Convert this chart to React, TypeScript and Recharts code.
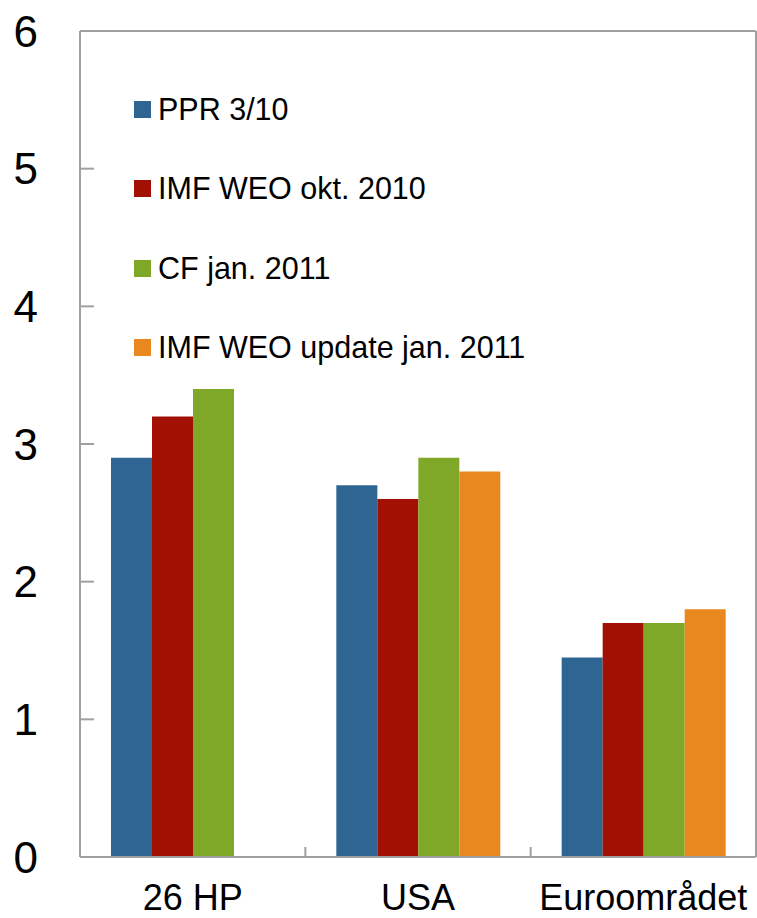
import React from 'react'
import {
  BarChart,
  Bar,
  XAxis,
  YAxis,
  ReferenceLine,
} from 'recharts'

const categories = ['26 HP', 'USA', 'Euroområdet']
const ppr = [2.9, 2.7, 1.45]
const imfOkt = [3.2, 2.6, 1.7]
const cfJan = [3.4, 2.9, 1.7]
const imfUpdate = [null, 2.8, 1.8]
const yTicks = [0, 1, 2, 3, 4, 5, 6]

const series = [
  { key: 'ppr', name: 'PPR 3/10', color: '#2E6592' },
  { key: 'imfOkt', name: 'IMF WEO okt. 2010', color: '#A21004' },
  { key: 'cfJan', name: 'CF jan. 2011', color: '#80A828' },
  { key: 'imfUpdate', name: 'IMF WEO update jan. 2011', color: '#E9881E' },
]

const data = categories.map((name, i) => ({
  name,
  ppr: ppr[i],
  imfOkt: imfOkt[i],
  cfJan: cfJan[i],
  imfUpdate: imfUpdate[i],
}))

const FONT = '"Liberation Sans", Arial, sans-serif'
const AXIS = '#A0A0A0'
const X_MARGIN = 27

const noLabel = () => <g />

// category label plus a short inward tick at the right edge of each band
function CategoryTick(props: any) {
  const { x, y, payload, index } = props
  const axisY = y - X_MARGIN
  const edge = payload.coordinate + (payload.offset || 0)
  return (
    <g>
      {index < categories.length - 1 && (
        <line x1={edge} x2={edge} y1={axisY} y2={axisY - 10} stroke={AXIS} strokeWidth={2} />
      )}
      <text
        x={x}
        y={y}
        dy="0.71em"
        textAnchor="middle"
        fontSize={36}
        fontFamily={FONT}
        fill="#000"
      >
        {payload.value}
      </text>
    </g>
  )
}

function LegendBox() {
  return (
    <div style={{ position: 'absolute', top: 70, left: 134, fontFamily: FONT }}>
      {series.map((s) => (
        <div
          key={s.key}
          style={{ height: 79.3, display: 'flex', alignItems: 'center' }}
        >
          <span
            style={{
              width: 17,
              height: 17,
              background: s.color,
              marginRight: 7,
              display: 'inline-block',
            }}
          />
          <span style={{ fontSize: 30.5, color: '#000', whiteSpace: 'nowrap' }}>
            {s.name}
          </span>
        </div>
      ))}
    </div>
  )
}

export default function App() {
  return (
    <div style={{ position: 'relative', width: 757, height: 918, background: '#fff' }}>
      <style>{'body{margin:0}'}</style>
      <BarChart
        width={757}
        height={918}
        data={data}
        margin={{ top: 31, right: 0, bottom: 0, left: 0 }}
        barGap={0}
        barSize={41}
      >
        <XAxis
          dataKey="name"
          height={61}
          axisLine={{ stroke: AXIS, strokeWidth: 2 }}
          tickLine={false}
          tickSize={0}
          tickMargin={X_MARGIN}
          tick={<CategoryTick />}
        />
        <YAxis
          width={80}
          domain={[0, 6]}
          ticks={yTicks}
          axisLine={{ stroke: AXIS, strokeWidth: 2 }}
          tickSize={-14}
          tickMargin={56}
          tickLine={{ stroke: AXIS, strokeWidth: 2 }}
          tick={{ fontSize: 44, fill: '#000', fontFamily: FONT }}
        />
        <YAxis
          yAxisId="right"
          orientation="right"
          width={1}
          domain={[0, 6]}
          ticks={yTicks}
          axisLine={{ stroke: AXIS, strokeWidth: 2 }}
          tickSize={-14}
          tick={noLabel}
          tickLine={{ stroke: AXIS, strokeWidth: 2 }}
        />
        <ReferenceLine y={6} stroke={AXIS} strokeWidth={2} />
        {series.map((s) => (
          <Bar
            key={s.key}
            dataKey={s.key}
            name={s.name}
            fill={s.color}
            isAnimationActive={false}
          />
        ))}
      </BarChart>
      <LegendBox />
    </div>
  )
}
